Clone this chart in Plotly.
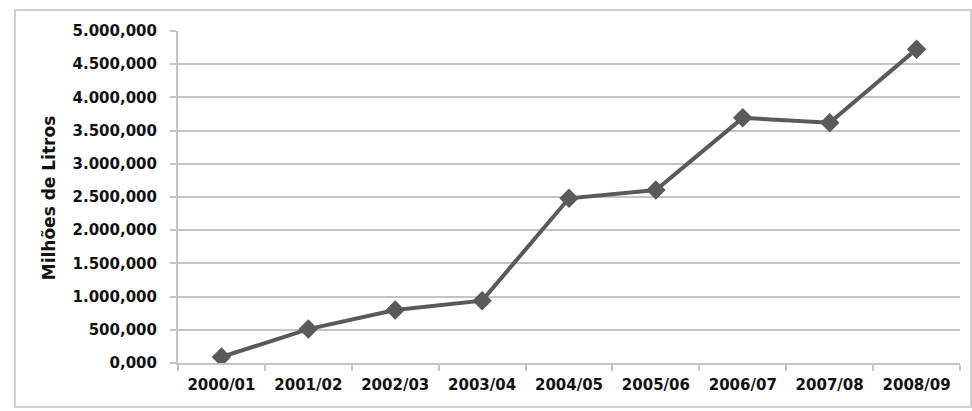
import plotly.graph_objects as go

categories = ["2000/01", "2001/02", "2002/03", "2003/04", "2004/05",
              "2005/06", "2006/07", "2007/08", "2008/09"]
values = [90, 511, 798, 939, 2480, 2606, 3692, 3617, 4727]
y_ticks = [0, 500, 1000, 1500, 2000, 2500, 3000, 3500, 4000, 4500, 5000]
y_title = "Milhões de Litros"

font_family = "DejaVu Sans"
dark = "#5a5a5a"
grid = "#c4c4c4"

fig = go.Figure()
fig.add_trace(go.Scatter(
    x=categories, y=values, mode="lines+markers",
    line=dict(color=dark, width=4),
    marker=dict(symbol="diamond", size=15, color=dark),
    showlegend=False, hoverinfo="x+y",
))

fig.update_layout(
    width=972, height=411,
    margin=dict(l=178, r=12, t=31, b=48, autoexpand=False),
    paper_bgcolor="white", plot_bgcolor="white",
    separators=",.",
    font=dict(family=font_family, color="#111111"),
)
fig.update_xaxes(
    type="category", tickson="boundaries", ticks="outside", ticklen=6,
    tickcolor=grid, tickwidth=2,
    showline=True, linecolor=grid, linewidth=2,
    showgrid=False, tickfont=dict(size=15, family=font_family, weight="bold"),
    ticklabelstandoff=7, range=[-0.5, 8.5],
)
fig.update_yaxes(
    range=[0, 5000], tickvals=y_ticks, tickformat=",.3f",
    ticks="outside", ticklen=6, tickcolor=grid, tickwidth=2,
    showline=True, linecolor=grid, linewidth=2,
    showgrid=True, gridcolor=grid, gridwidth=2,
    zeroline=False,
    tickfont=dict(size=15, family=font_family, weight="bold"),
    ticklabelstandoff=10,
)

# y-axis title as annotation
fig.add_annotation(
    text=y_title, textangle=-90, xref="paper", yref="paper",
    x=-0.164, y=0.4985, xanchor="center", yanchor="middle", showarrow=False,
    font=dict(size=17, family=font_family, weight="bold", color="#111111"),
)

# outer chart border
fig.add_shape(
    type="rect", xref="paper", yref="paper",
    x0=-0.2084, x1=1.014, y0=-0.1325, y1=1.0633,
    line=dict(color="#d0d0d0", width=2), layer="below",
)

fig.write_html("out.html")
